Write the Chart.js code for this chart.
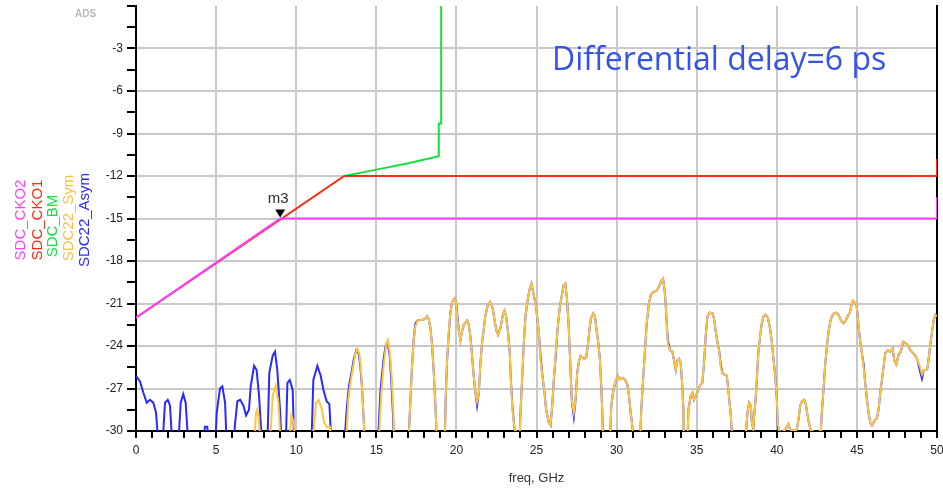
<!DOCTYPE html>
<html>
<head>
<meta charset="utf-8">
<script src="https://cdn.jsdelivr.net/npm/chart.js@4.4.0/dist/chart.umd.min.js"></script>
<style>
html, body { margin: 0; padding: 0; background: #fff; }
#wrap { position: relative; width: 943px; height: 490px; overflow: hidden; }
canvas { display: block; }
.leg { position: absolute; font: 15px "Liberation Sans", Arial, sans-serif; white-space: nowrap;
       transform: translate(-50%, -50%) rotate(-90deg); line-height: 15px; }
#note { position: absolute; left: 552px; top: 38px; font: 32px "Open Sans", sans-serif; color: #3553e6; line-height: 40px; white-space: nowrap; }
#ads { position: absolute; left: 75px; top: 8px; font: bold 10px "Liberation Sans", Arial, sans-serif; color: #b8b8b8; }
</style>
</head>
<body>
<div id="wrap">
  <canvas id="chart" width="943" height="490"></canvas>
  <div id="ads">ADS</div>
  <div id="note">Differential delay=6 ps</div>
  <div class="leg" style="left:19px;top:220px;color:#ff40ff">SDC_CKO2</div>
  <div class="leg" style="left:36px;top:220px;color:#ff2a10">SDC_CKO1</div>
  <div class="leg" style="left:51px;top:226px;color:#10e040">SDC_BM</div>
  <div class="leg" style="left:67px;top:218px;color:#ffc040">SDC22_Sym</div>
  <div class="leg" style="left:83px;top:220px;color:#2a2aff">SDC22_Asym</div>
</div>
<script>
// x ticks / y ticks
const xMin = 0, xMax = 50;
const yMin = -30, yMax = 0;

// marker m3
const markerFreq = 9;
const markerDb = -15;
const markerLabel = 'm3';

// SDC_CKO2
const cko2Freq = [0, 9, 50, 50];
const cko2Db = [-22, -15, -15, -13.5];

// SDC_CKO1
const cko1Freq = [0, 13, 50, 50];
const cko1Db = [-22, -12, -12, -10.8];

// SDC_BM
const bmFreq = [13, 15, 17, 18.9, 18.9, 19.05, 19.05];
const bmDb = [-12, -11.55, -11.1, -10.6, -8.3, -8.3, 0];

// SDC22_Asym, low band
const asymLoFreq = [0,0.25,0.46,0.67,0.87,1.08,1.25,1.4,1.65,1.81,1.98,2.12,2.27,2.64,2.79,2.95,3.1,3.27,4.2,4.3,
  4.45,4.55,4.95,5.04,5.24,5.39,5.56,5.66,6.1,6.18,6.33,6.5,6.7,6.87,7.05,7.16,7.37,7.53,7.68,7.8,
  7.9,8.2,8.32,8.53,8.68,8.82,8.99,9.09,9.35,9.45,9.6,9.78,9.88,10.95,11.07,11.32,11.53,11.7,11.9,12.07,
  12.2,13.0,13.17,13.3,13.48,13.6,13.75,13.9,14.0,14.1,14.2,14.3,15.1,15.25,15.35,15.46,15.58,15.7,15.83,15.94,
  16.04,16.1];
const asymLoDb = [-26.1,-26.5,-27.3,-28.0,-27.8,-28.0,-28.7,-31,-31,-28.0,-27.8,-28.2,-31,-31,-28.0,-27.4,-28.0,-31,-31,-29.7,
  -29.7,-31,-31,-28.7,-27.0,-26.85,-28.0,-31,-31,-29.5,-27.9,-27.8,-28.2,-28.9,-28.5,-26.85,-25.4,-25.7,-27.5,-29.7,
  -31,-31,-25.9,-24.7,-24.4,-25.7,-28.5,-31,-31,-26.6,-26.4,-27.1,-31,-31,-26.4,-25.4,-26.1,-27.1,-27.9,-28.1,
  -31,-31,-28.2,-26.8,-25.7,-24.9,-24.3,-24.5,-25.4,-26.8,-28.9,-31,-31,-27.3,-26.1,-24.9,-24.0,-23.7,-24.6,-26.5,
  -28.8,-31];

// SDC22_Sym, low band
const symLoFreq = [0,7.37,7.49,7.56,7.64,7.8,8.36,8.53,8.72,8.89,9.03,9.57,9.7,9.86,9.95,11.0,11.24,11.4,11.6,11.74,
  11.9,12.1,12.2,13.1,13.25,13.4,13.55,13.7,13.82,13.95,14.05,14.15,14.3,15.15,15.3,15.45,15.6,15.72,15.83,15.96,
  16.06,16.12];
const symLoDb = [-31,-31,-28.7,-28.5,-28.9,-31,-31,-27.5,-26.8,-28.0,-31,-31,-28.9,-29.4,-31,-31,-28.0,-27.8,-28.5,-29.4,
  -29.7,-29.7,-31,-31,-27.8,-26.5,-25.5,-24.5,-24.2,-24.6,-25.8,-27.8,-31,-31,-27.5,-25.5,-24.0,-23.6,-24.3,-26.2,
  -28.5,-31];

// both SDC22 traces, 17..50 GHz
const hiFreq = [17.0,17.13,17.23,17.33,17.44,17.58,17.85,18.02,18.17,18.27,
  18.38,18.48,18.58,18.69,18.79,19.27,19.33,19.42,19.52,19.62,
  19.73,19.88,19.98,20.04,20.15,20.25,20.35,20.46,20.67,20.77,
  20.87,20.98,21.08,21.19,21.29,21.4,21.5,21.6,21.7,21.8,
  21.96,22.1,22.27,22.38,22.5,22.6,22.75,22.9,23.0,23.1,
  23.23,23.33,23.4,23.5,23.63,23.8,23.96,24.0,24.1,24.2,
  24.31,24.46,24.58,24.69,24.79,24.94,25.0,25.15,25.25,25.4,
  25.5,25.6,25.77,25.88,26.0,26.08,26.2,26.3,26.46,26.6,
  26.7,26.8,26.9,27.0,27.1,27.2,27.33,27.44,27.54,27.65,
  27.75,27.96,28.1,28.2,28.3,28.4,28.54,28.65,28.75,28.85,
  28.96,29.04,29.1,29.17,29.58,29.67,29.8,29.94,30.08,30.2,
  30.35,30.5,30.67,30.77,30.88,30.98,31.04,31.46,31.54,31.67,
  31.77,31.88,32.02,32.13,32.29,32.5,32.65,32.8,32.9,33.0,
  33.06,33.13,33.2,33.33,33.48,33.58,33.69,33.8,33.9,34.0,
  34.1,34.17,34.2,34.42,34.48,34.63,34.73,34.83,34.94,35.04,
  35.2,35.35,35.46,35.56,35.67,35.81,35.98,36.08,36.19,36.29,
  36.4,36.5,36.6,36.7,36.88,37.0,37.13,37.23,37.7,38.0,
  38.08,38.17,38.27,38.38,38.44,38.54,38.58,38.67,38.75,38.85,
  38.96,39.06,39.17,39.3,39.44,39.58,39.69,39.79,39.9,40.0,
  40.06,40.17,40.31,40.52,40.73,40.83,41.04,41.25,41.35,41.46,
  41.58,41.71,41.81,41.92,42.02,42.13,42.5,42.75,42.81,42.92,
  43.02,43.13,43.23,43.33,43.44,43.58,43.71,43.85,44.0,44.17,
  44.31,44.42,44.54,44.65,44.75,44.83,44.96,45.04,45.1,45.21,
  45.31,45.42,45.52,45.63,45.73,45.83,45.94,46.04,46.15,46.25,
  46.35,46.46,46.56,46.67,46.77,46.92,47.08,47.23,47.33,47.46,
  47.6,47.75,47.88,48.02,48.17,48.33,48.5,48.65,48.79,48.92,
  49.06,49.17,49.27,49.38,49.48,49.58,49.69,49.79,49.9,50.0];

const hiSymDb = [-31,-27.8,-25.4,-23.6,-22.6,-22.2,-22.15,-22.1,-21.9,-22.1,
  -22.75,-23.9,-25.7,-28.2,-31,-31,-27.8,-25.0,-23.0,-21.7,
  -20.9,-20.65,-20.9,-21.9,-22.9,-23.6,-23.0,-22.5,-22.2,-22.5,
  -23.3,-24.7,-26.1,-27.3,-27.9,-27.3,-25.2,-23.8,-22.9,-21.9,
  -21.1,-20.9,-21.35,-22.2,-22.9,-23.2,-22.75,-21.8,-21.5,-21.9,
  -23.1,-24.5,-26.4,-28.5,-29.9,-30.1,-30.1,-28.7,-26.4,-24.0,
  -21.9,-20.65,-19.95,-19.6,-20.2,-21.0,-21.5,-23.1,-25.0,-26.4,
  -27.3,-28.5,-29.4,-29.6,-27.9,-26.4,-24.5,-23.0,-21.2,-20.3,
  -19.7,-19.6,-20.65,-22.4,-25.0,-27.8,-28.7,-27.8,-25.9,-25.1,
  -24.7,-24.9,-24.85,-24.0,-22.9,-22.05,-21.7,-21.9,-22.9,-23.7,
  -25.0,-26.8,-28.5,-31,-31,-28.2,-27.1,-26.5,-26.1,-26.35,
  -26.25,-26.35,-26.7,-27.5,-28.7,-29.6,-31,-31,-28.5,-26.1,
  -24.3,-22.4,-21.0,-20.4,-20.2,-20.1,-19.8,-19.4,-19.25,-20.1,
  -21.0,-22.4,-23.9,-24.3,-24.4,-25.0,-25.7,-25.0,-24.9,-25.2,
  -26.8,-28.5,-31,-31,-28.5,-27.5,-27.3,-27.8,-27.5,-27.3,
  -26.8,-26.6,-25.2,-23.3,-21.9,-21.65,-21.7,-22.05,-23.0,-23.7,
  -24.3,-25.55,-25.9,-26.0,-26.1,-27.4,-28.9,-31,-30.1,-30.1,
  -30.0,-28.7,-28.0,-28.2,-29.4,-29.9,-29.0,-27.9,-26.4,-24.4,
  -23.3,-22.4,-21.9,-21.8,-22.0,-22.75,-23.7,-24.9,-26.1,-27.7,
  -29.5,-30.0,-30.1,-29.9,-29.5,-29.9,-30.0,-29.9,-29.2,-28.2,
  -27.9,-27.8,-28.1,-28.9,-29.5,-30.0,-30.1,-30.0,-28.7,-27.0,
  -25.3,-24.0,-23.0,-22.3,-21.9,-21.7,-21.65,-21.8,-22.2,-22.4,
  -22.2,-21.9,-21.7,-21.2,-20.8,-20.9,-21.0,-21.7,-22.6,-23.7,
  -24.5,-25.55,-26.6,-27.8,-28.7,-29.4,-29.6,-29.4,-29.2,-29.1,
  -28.5,-27.3,-26.4,-25.4,-24.5,-24.3,-24.4,-24.2,-25.0,-25.3,
  -24.6,-24.4,-23.7,-23.8,-23.9,-24.3,-24.5,-24.7,-25.0,-25.4,
  -26.0,-25.7,-25.7,-25.7,-24.9,-23.9,-23.0,-22.2,-21.8,-21.9];

const hiAsymDb = [-31,-27.8,-25.4,-23.6,-22.4,-22.2,-22.15,-22.1,-21.9,-22.1,
  -22.75,-23.9,-25.7,-28.2,-31,-31,-27.8,-25.0,-23.2,-21.7,
  -20.9,-20.65,-20.9,-21.6,-22.9,-23.6,-23.0,-22.5,-22.2,-22.5,
  -23.3,-24.7,-26.1,-27.3,-28.2,-27.3,-25.2,-23.8,-22.9,-21.9,
  -21.1,-20.9,-21.35,-22.2,-22.9,-23.2,-22.75,-21.8,-21.5,-21.9,
  -23.1,-24.5,-26.4,-28.3,-29.9,-30.1,-30.1,-28.7,-26.4,-24.0,
  -21.9,-20.65,-19.95,-19.6,-20.2,-21.0,-21.5,-23.1,-24.7,-26.4,
  -27.3,-28.5,-29.4,-29.6,-27.9,-26.4,-24.7,-23.0,-21.2,-20.3,
  -19.7,-19.6,-20.65,-22.4,-25.0,-27.8,-29.0,-27.8,-25.9,-25.1,
  -24.7,-24.9,-24.85,-24.0,-22.9,-22.05,-21.7,-21.9,-22.9,-23.7,
  -25.0,-26.8,-28.5,-31,-31,-28.2,-27.1,-26.5,-26.1,-26.35,
  -26.25,-26.35,-26.7,-27.5,-28.7,-29.6,-31,-31,-28.5,-26.1,
  -24.3,-22.4,-21.0,-20.4,-20.2,-20.1,-19.8,-19.4,-19.25,-20.1,
  -21.0,-22.4,-23.6,-24.3,-24.4,-25.0,-25.7,-25.0,-24.9,-25.2,
  -26.8,-28.5,-31,-31,-28.5,-27.5,-27.3,-27.8,-27.5,-27.3,
  -26.8,-26.6,-25.2,-23.3,-21.9,-21.65,-21.7,-22.05,-23.0,-23.7,
  -24.3,-25.3,-25.9,-26.0,-26.1,-27.4,-28.9,-31,-30.1,-30.1,
  -30.0,-28.7,-28.0,-28.2,-29.4,-29.9,-29.0,-27.9,-26.4,-24.4,
  -23.3,-22.4,-21.9,-21.8,-22.0,-22.75,-23.7,-24.9,-26.1,-27.7,
  -29.8,-30.0,-30.1,-29.9,-29.5,-29.9,-30.0,-29.9,-29.2,-28.2,
  -27.9,-27.8,-28.1,-28.9,-29.5,-30.0,-30.1,-30.0,-28.7,-27.0,
  -25.3,-24.0,-23.0,-22.3,-21.9,-21.7,-21.65,-21.8,-22.2,-22.4,
  -22.2,-21.9,-21.7,-21.2,-20.8,-20.9,-21.0,-21.7,-22.6,-23.7,
  -24.5,-25.3,-26.6,-27.8,-28.7,-29.4,-29.6,-29.4,-29.2,-29.1,
  -28.5,-27.3,-26.4,-25.4,-24.5,-24.3,-24.4,-24.2,-25.0,-25.3,
  -24.6,-24.4,-23.7,-23.8,-23.9,-24.3,-24.5,-24.7,-25.0,-25.7,
  -26.3,-25.7,-25.7,-25.7,-24.9,-23.9,-23.0,-22.2,-21.8,-21.9];

const asymFreq = asymLoFreq.concat(hiFreq);
const asymDb = asymLoDb.concat(hiAsymDb);
const symFreq = symLoFreq.concat(hiFreq);
const symDb = symLoDb.concat(hiSymDb);

function pts(fs, ds) {
    return fs.map((f, i) => ({ x: f, y: ds[i] }));
}

function line(label, fs, ds, color, width) {
    return {
        label: label, data: pts(fs, ds), borderColor: color, backgroundColor: color,
        borderWidth: width, pointRadius: 0, tension: 0, fill: false
    };
}

const markerPlugin = {
    id: 'marker',
    afterDatasetsDraw(chart) {
        const ctx = chart.ctx;
        const px = chart.scales.x.getPixelForValue(markerFreq);
        const py = chart.scales.y.getPixelForValue(markerDb);
        ctx.save();
        ctx.fillStyle = '#000';
        ctx.beginPath();
        ctx.moveTo(px - 5, py - 9);
        ctx.lineTo(px + 5, py - 9);
        ctx.lineTo(px, py - 1);
        ctx.closePath();
        ctx.fill();
        ctx.font = '15px "Liberation Sans", Arial, sans-serif';
        ctx.fillStyle = '#2b2b2b';
        ctx.textAlign = 'center';
        ctx.textBaseline = 'middle';
        ctx.fillText(markerLabel, px - 2, py - 20);
        ctx.restore();
    }
};

const tickFont = { family: '"Liberation Sans", Arial, sans-serif', size: 12 };

new Chart(document.getElementById('chart'), {
    type: 'line',
    data: {
        datasets: [
            line('SDC_CKO2', cko2Freq, cko2Db, '#ff40ff', 2),
            line('SDC_CKO1', cko1Freq, cko1Db, '#ff2a10', 2),
            line('SDC_BM', bmFreq, bmDb, '#10e040', 2),
            line('SDC22_Sym', symFreq, symDb, '#ffc53d', 2),
            line('SDC22_Asym', asymFreq, asymDb, '#2a2aff', 2)
        ]
    },
    options: {
        responsive: false,
        animation: false,
        layout: { padding: { top: 6, left: 0, right: 0, bottom: 0 } },
        plugins: { legend: { display: false }, tooltip: { enabled: false } },
        scales: {
            x: {
                type: 'linear', min: xMin, max: xMax,
                afterFit: (s) => { s.height = 59; s.paddingLeft = 0; s.paddingRight = 0; },
                ticks: {
                    stepSize: 1, autoSkip: false, maxRotation: 0, padding: 5,
                    color: '#222', font: tickFont,
                    callback: (v) => (v % 5 === 0 ? String(v) : '')
                },
                grid: {
                    color: (c) => (c.tick && c.tick.value % 5 === 0 && c.tick.value !== 0 ? '#c8c8c8' : 'rgba(0,0,0,0)'),
                    lineWidth: 2, tickColor: '#000', tickWidth: 2, tickLength: 7
                },
                border: { color: '#000', width: 2 },
                title: {
                    display: true, text: 'freq, GHz', color: '#333',
                    font: { family: '"Liberation Sans", Arial, sans-serif', size: 13 },
                    padding: { top: 0, bottom: 4 }
                }
            },
            y: {
                type: 'linear', min: yMin, max: yMax,
                afterFit: (s) => { s.width = 136; s.paddingTop = 0; s.paddingBottom = 0; },
                ticks: {
                    stepSize: 1.5, autoSkip: false, padding: 4,
                    color: '#222', font: tickFont,
                    callback: (v) => (Math.abs(v % 3) < 1e-6 && v !== 0 ? String(v) : '')
                },
                grid: {
                    color: (c) => (c.tick && Math.abs(c.tick.value % 3) < 1e-6 && c.tick.value !== 0 && c.tick.value !== -30 ? '#c8c8c8' : 'rgba(0,0,0,0)'),
                    lineWidth: 2, tickColor: '#000', tickWidth: 2, tickLength: 9
                },
                border: { color: '#000', width: 2 }
            },
            yr: {
                type: 'linear', position: 'right', min: yMin, max: yMax,
                afterFit: (s) => { s.width = 6; },
                ticks: { display: false },
                grid: { drawOnChartArea: false, drawTicks: false },
                border: { color: '#000', width: 2 }
            }
        }
    },
    plugins: [markerPlugin]
});
</script>
</body>
</html>
